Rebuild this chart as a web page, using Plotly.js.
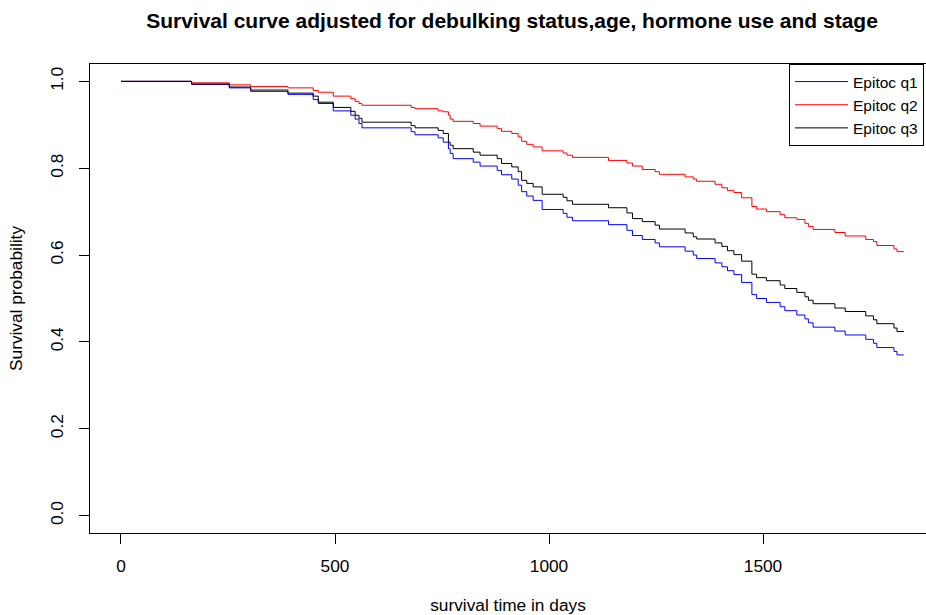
<!DOCTYPE html>
<html>
<head>
<meta charset="utf-8">
<script src="https://cdn.plot.ly/plotly-3.0.1.min.js"></script>
<style>html,body{margin:0;padding:0;background:#fff;}#chart{width:926px;height:615px;}</style>
</head>
<body>
<div id="chart"></div>
<script>
// Event times (days) shared by the three adjusted curves; last value is end of follow-up
var times = [0, 165, 253, 303, 390, 449, 461, 496, 537, 547, 556,
  563, 678, 687, 741, 753, 765, 769, 776, 823, 839,
  879, 889, 913, 928, 936, 948, 963, 984, 1033, 1042,
  1055, 1139, 1182, 1195, 1218, 1248, 1258, 1318, 1337, 1345,
  1388, 1404, 1417, 1432, 1450, 1474, 1485, 1508, 1540, 1551,
  1579, 1598, 1606, 1617, 1668, 1692, 1740, 1758, 1766, 1806,
  1813, 1829];

var survQ1 = [1, 0.993, 0.985, 0.977, 0.970, 0.958, 0.949, 0.932, 0.922, 0.913, 0.903,
  0.893, 0.884, 0.877, 0.870, 0.860, 0.845, 0.834, 0.822, 0.814, 0.805,
  0.795, 0.785, 0.775, 0.761, 0.746, 0.736, 0.726, 0.705, 0.696, 0.687,
  0.679, 0.670, 0.657, 0.645, 0.636, 0.628, 0.619, 0.609, 0.600, 0.592,
  0.582, 0.573, 0.564, 0.555, 0.537, 0.509, 0.500, 0.491, 0.481, 0.472,
  0.462, 0.453, 0.444, 0.434, 0.425, 0.416, 0.406, 0.397, 0.387, 0.378,
  0.370, 0.370];

var survQ2 = [1, 0.9966, 0.992, 0.988, 0.985, 0.979, 0.975, 0.966, 0.960, 0.954, 0.949,
  0.945, 0.940, 0.937, 0.932, 0.930, 0.922, 0.913, 0.908, 0.903, 0.897,
  0.891, 0.885, 0.880, 0.872, 0.862, 0.855, 0.849, 0.840, 0.835, 0.830,
  0.825, 0.818, 0.812, 0.805, 0.797, 0.792, 0.786, 0.780, 0.775, 0.770,
  0.763, 0.755, 0.749, 0.744, 0.732, 0.712, 0.706, 0.700, 0.693, 0.686,
  0.682, 0.673, 0.666, 0.659, 0.652, 0.644, 0.636, 0.631, 0.622, 0.614,
  0.608, 0.608];

var survQ3 = [1, 0.994, 0.987, 0.980, 0.973, 0.966, 0.952, 0.940, 0.931, 0.922, 0.915,
  0.906, 0.898, 0.893, 0.887, 0.880, 0.860, 0.853, 0.845, 0.837, 0.830,
  0.822, 0.811, 0.803, 0.792, 0.772, 0.765, 0.757, 0.740, 0.733, 0.725,
  0.717, 0.709, 0.697, 0.684, 0.677, 0.669, 0.660, 0.651, 0.642, 0.637,
  0.628, 0.620, 0.610, 0.601, 0.586, 0.556, 0.548, 0.541, 0.531, 0.523,
  0.514, 0.504, 0.496, 0.488, 0.478, 0.470, 0.460, 0.451, 0.442, 0.432,
  0.424, 0.424];

var seriesNames = ['Epitoc q1', 'Epitoc q2', 'Epitoc q3'];
var xTicks = [0, 500, 1000, 1500];
var yTicks = [0, 0.2, 0.4, 0.6, 0.8, 1.0];
var yTickText = ['0.0', '0.2', '0.4', '0.6', '0.8', '1.0'];

var FONT = 'Liberation Sans, Arial, Helvetica, sans-serif';

function stepTrace(y, name, color) {
  return {
    x: times, y: y, name: name, type: 'scatter', mode: 'lines',
    line: {shape: 'hv', color: color, width: 1},
    hoverinfo: 'x+y+name'
  };
}

var data = [
  stepTrace(survQ1, seriesNames[0], '#0000FF'),
  stepTrace(survQ2, seriesNames[1], '#FF0000'),
  stepTrace(survQ3, seriesNames[2], '#000000')
];

var layout = {
  width: 926, height: 615,
  paper_bgcolor: '#ffffff', plot_bgcolor: '#ffffff',
  margin: {l: 90, r: 0, t: 64, b: 82, pad: 0},
  font: {family: FONT, size: 17.3, color: '#000'},
  title: {
    text: '<b>Survival curve adjusted for debulking status,age, hormone use and stage</b>',
    font: {family: FONT, size: 21, color: '#000'},
    xref: 'container', x: 512 / 926, xanchor: 'center',
    yref: 'container', y: 1 - 21 / 615, yanchor: 'middle'
  },
  xaxis: {
    range: [-72.4, 1880.8],
    tickvals: xTicks, ticktext: xTicks.map(String),
    ticks: 'outside', ticklen: 10, tickwidth: 1, tickcolor: '#000',
    showline: true, linecolor: '#000', linewidth: 1, mirror: true,
    showgrid: false, zeroline: false,
    tickfont: {family: FONT, size: 17.3, color: '#000'},
    ticklabelstandoff: 7,
    title: {text: 'survival time in days', font: {family: FONT, size: 17.3, color: '#000'}, standoff: 25}
  },
  yaxis: {
    range: [-0.04, 1.04],
    tickvals: yTicks, ticktext: yTickText,
    ticks: 'outside', ticklen: 10, tickwidth: 1, tickcolor: '#000',
    tickangle: -90,
    showline: true, linecolor: '#000', linewidth: 1, mirror: false,
    showgrid: false, zeroline: false,
    tickfont: {family: FONT, size: 17.3, color: '#000'},
    ticklabelstandoff: 9,
    title: {text: 'Survival probability', font: {family: FONT, size: 17.3, color: '#000'}, standoff: 20}
  },
  showlegend: true,
  legend: {
    x: (789 - 90) / 836, xanchor: 'left',
    y: 1, yanchor: 'top',
    bgcolor: '#ffffff', bordercolor: '#000', borderwidth: 1,
    font: {family: FONT, size: 15.5, color: '#000'},
    itemwidth: 53,
    traceorder: 'normal'
  },
  hovermode: 'closest'
};

Plotly.newPlot('chart', data, layout, {displayModeBar: false, staticPlot: true});
</script>
</body>
</html>
